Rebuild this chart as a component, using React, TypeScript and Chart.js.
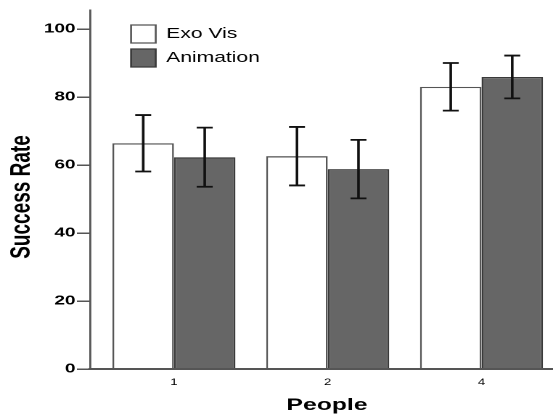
import React, { useEffect, useRef } from 'react';
import { Chart, registerables } from 'chart.js';

Chart.register(...registerables);

// ---- data ----
const categories = ['1', '2', '4'];
const seriesNames = ['Exo Vis', 'Animation'];
const exoVis = [66.4, 62.6, 83.0];
const exoVisErr = [8.3, 8.6, 7.0];
const animation = [62.3, 58.8, 85.9];
const animationErr = [8.7, 8.6, 6.3];
const yTicks = [0, 20, 40, 60, 80, 100];

// ---- look ----
const FONT = "'Liberation Sans', Arial, sans-serif";
const LOGICAL_W = 381; // drawn narrow, shown stretched like the reference
const SHOWN_W = 553;
const H = 414;

const errorBarPlugin = {
  id: 'errorBars',
  afterDatasetsDraw(chart: any) {
    const ctx = chart.ctx;
    const yScale = chart.scales.y;
    ctx.save();
    ctx.strokeStyle = '#111';
    ctx.lineWidth = 1.8;
    chart.data.datasets.forEach((ds: any, di: number) => {
      const meta = chart.getDatasetMeta(di);
      meta.data.forEach((bar: any, i: number) => {
        const v = ds.data[i].y;
        const e = ds.errors[i];
        const yt = yScale.getPixelForValue(v + e);
        const yb = yScale.getPixelForValue(v - e);
        const x = bar.x;
        const cap = 5.5;
        ctx.beginPath();
        ctx.moveTo(x, yt);
        ctx.lineTo(x, yb);
        ctx.moveTo(x - cap, yt);
        ctx.lineTo(x + cap, yt);
        ctx.moveTo(x - cap, yb);
        ctx.lineTo(x + cap, yb);
        ctx.stroke();
      });
    });
    ctx.restore();
  },
};

const legendPlacePlugin = {
  id: 'legendPlace',
  afterLayout(chart: any) {
    const lg = chart.legend;
    if (lg) {
      lg.left = 84.3;
      lg.top = 19;
      lg.bottom = chart.chartArea.bottom;
      lg.right = chart.chartArea.right;
    }
  },
};

// nudges the axis titles to where the reference has them
const titleShiftPlugin = {
  id: 'titleShift',
  afterLayout(chart: any) {
    const shifts: Record<string, [number, number]> = { x: [3.8, 0], y: [0, 7.5] };
    Object.keys(shifts).forEach((id) => {
      const s = chart.scales[id];
      if (s && !s.__titleShifted) {
        const orig = s.drawTitle.bind(s);
        const [dx, dy] = shifts[id];
        s.drawTitle = function () {
          const ctx = this.ctx;
          ctx.save();
          ctx.translate(dx, dy);
          orig();
          ctx.restore();
        };
        s.__titleShifted = true;
      }
    });
  },
};

export default function App() {
  const ref = useRef<HTMLCanvasElement>(null);

  useEffect(() => {
    const canvas = ref.current;
    if (!canvas) return;
    const chart = new Chart(canvas, {
      type: 'bar',
      data: {
        datasets: [
          {
            label: seriesNames[0],
            data: categories.map((_, i) => ({ x: i + 1, y: exoVis[i] })),
            errors: exoVisErr,
            backgroundColor: '#ffffff',
            borderColor: '#555555',
            borderWidth: 1.3,
          } as any,
          {
            label: seriesNames[1],
            data: categories.map((_, i) => ({ x: i + 1, y: animation[i] })),
            errors: animationErr,
            backgroundColor: '#666666',
            borderColor: '#3a3a3a',
            borderWidth: 1.3,
          } as any,
        ],
      },
      options: {
        animation: false,
        responsive: false,
        devicePixelRatio: 2,
        events: [],
        layout: { padding: { top: 10, left: 0, right: 0, bottom: 0 } },
        datasets: {
          bar: { categoryPercentage: 0.8, barPercentage: 1 },
        },
        plugins: {
          tooltip: { enabled: false },
          legend: {
            position: 'chartArea',
            align: 'start',
            labels: {
              boxWidth: 17,
              boxHeight: 18,
              padding: 6,
              color: '#000',
              font: { family: FONT, size: 14.5 },
            },
          },
        },
        scales: {
          x: {
            type: 'linear',
            min: 0.454,
            max: 3.465,
            offset: false,
            afterBuildTicks: (s: any) => {
              s.ticks = categories.map((_, i) => ({ value: i + 1 }));
            },
            afterFit: (s: any) => {
              s.height = 45;
            },
            grid: {
              drawOnChartArea: false,
              drawTicks: true,
              tickLength: 5,
              color: 'rgba(0,0,0,0)',
            },
            border: { display: true, color: '#555', width: 2, z: 1 },
            ticks: {
              autoSkip: false,
              maxRotation: 0,
              padding: 3,
              color: '#000',
              font: { family: FONT, size: 9 },
              callback: (v: any) => categories[Number(v) - 1] ?? '',
            },
            title: {
              display: true,
              text: 'People',
              color: '#000',
              font: { family: FONT, size: 17, weight: 'bold', lineHeight: 1 },
              padding: { top: 0, bottom: 0 },
            },
          },
          y: {
            min: 0,
            max: 105.6,
            afterBuildTicks: (s: any) => {
              s.ticks = yTicks.map((v) => ({ value: v }));
            },
            afterFit: (s: any) => {
              s.width = 62;
            },
            grid: {
              drawOnChartArea: false,
              drawTicks: true,
              tickLength: 9,
              color: '#555',
              lineWidth: 1.5,
            },
            border: { display: true, color: '#555', width: 1.4, z: 1 },
            ticks: {
              padding: 1,
              color: '#000',
              font: { family: FONT, size: 13, weight: 'bold' },
            },
            title: {
              display: true,
              text: 'Success Rate',
              color: '#000',
              font: { family: FONT, size: 19, weight: 'bold', lineHeight: 1 },
              padding: { top: 5.7, bottom: 0 },
            },
          },
        },
      } as any,
      plugins: [errorBarPlugin, legendPlacePlugin, titleShiftPlugin],
    });
    return () => chart.destroy();
  }, []);

  return (
    <div
      style={{
        position: 'fixed',
        left: 0,
        top: 0,
        width: SHOWN_W,
        height: H,
        overflow: 'hidden',
        background: '#fff',
      }}
    >
      <canvas
        ref={ref}
        width={LOGICAL_W}
        height={H}
        style={{ display: 'block', width: SHOWN_W + 'px', height: H + 'px' }}
      />
    </div>
  );
}
